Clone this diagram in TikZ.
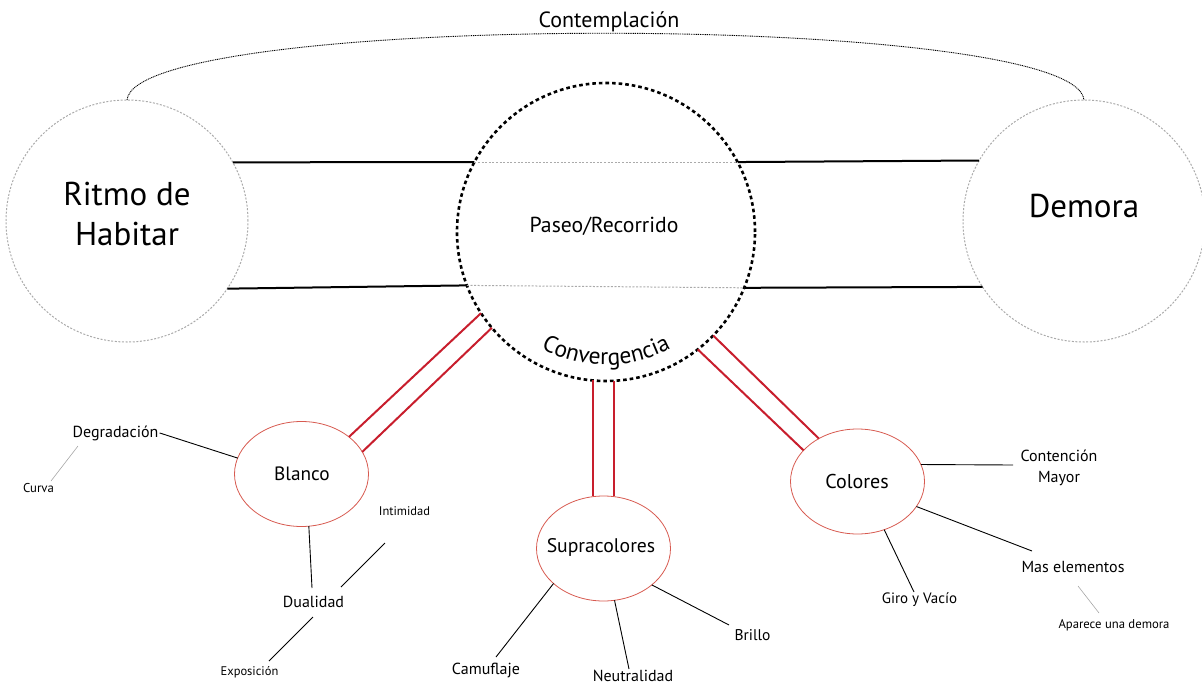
\documentclass[tikz,border=0pt]{standalone}
\usepackage{fontspec}
\setmainfont{PT Sans}
\usetikzlibrary{shapes.geometric,decorations.text,calc}

\definecolor{linkred}{RGB}{200,30,45}
\definecolor{ovalred}{RGB}{215,90,80}
\definecolor{ringgray}{RGB}{170,170,170}

\tikzset{
  fs/.style n args={2}{font=\fontsize{#1}{#2}\selectfont},
  outerring/.style={circle, draw=ringgray, dash pattern=on 2pt off 1.6pt,
    line width=1pt, minimum size=242pt, inner sep=0pt, outer sep=0pt},
  hubring/.style={circle, draw=black, dash pattern=on 3.6pt off 3pt,
    line width=2.6pt, minimum size=298pt, inner sep=0pt, outer sep=0pt},
  oval/.style={ellipse, draw=ovalred, line width=0.8pt, minimum width=134pt,
    minimum height=105pt, inner sep=0pt, outer sep=0pt},
  lbl/.style={anchor=base, inner sep=1pt},
  link/.style={draw=linkred, line width=2pt},
  spoke/.style={draw=black, line width=0.9pt},
  faint/.style={draw=gray!70, line width=0.6pt},
  beam/.style={draw=black, line width=2pt},
  midline/.style={draw=ringgray, dash pattern=on 2pt off 1.6pt, line width=1pt},
  arcline/.style={draw=black, dash pattern=on 1pt off 0.8pt, line width=0.9pt}
}

\begin{document}
\begin{tikzpicture}[x=1pt,y=1pt]
\useasboundingbox (0,0) rectangle (1202,-685);

% three main rings
\node[outerring] (ritmo) at (127,-221) {};
\node[outerring] (demora) at (1084,-221) {};
\node[hubring] (paseo) at (606,-232) {};

\node[fs={33}{40}, align=center] (ritmotxt) at (127,-214) {Ritmo de\\Habitar};
\node[lbl, fs={33}{40}] (demoratxt) at (1084,-217) {Demora};
\node[lbl, fs={21.7}{26}] (paseotxt) at (604,-232) {Paseo/Recorrido};

% contemplation arc over the top
\draw[arcline] (ritmo.north) .. controls (135,-11) and (1076,-11) .. (demora.north);
\node[lbl, fs={22}{26}] (contemp) at (609,-28) {Contemplación};

% beams joining the rings
\draw[beam] (ritmo.29.2) -- (paseo.152);
\draw[beam] (ritmo.326.9) -- (paseo.201.7);
\draw[beam] (paseo.28) -- (demora.150.8);
\draw[beam] (paseo.338.3) -- (demora.213.1);
\draw[midline] (paseo.152) -- (paseo.28);
\draw[midline] (paseo.201.7) -- (paseo.338.3);

% curved label along the lower rim
\path[decorate, decoration={text along path, text align=center,
   text={|\fontsize{23.5}{27}\selectfont|Convergencia}}]
   ($(paseo.center)+(215:133pt)$) arc[start angle=215, end angle=325, radius=133pt];

% the three branches
\node[oval] (blanco) at (301.5,-474) {};
\node[oval] (supra) at (603.5,-548.5) {};
\node[oval] (colores) at (857.5,-481.5) {};
\node[lbl, fs={19.3}{23}] at (302,-480) {Blanco};
\node[lbl, fs={19.7}{23}] at (601,-552) {Supracolores};
\node[lbl, fs={20}{23}] at (857,-488) {Colores};

\draw[link] (paseo.213.2) -- (blanco.38.5);
\draw[link] (paseo.220.9) -- (blanco.20.8);
\draw[link] (paseo.265) -- (paseo.265 |- supra.north);
\draw[link] (paseo.273.5) -- (paseo.273.5 |- supra.north);
\draw[link] (paseo.308.9) -- (colores.150);
\draw[link] (paseo.316.6) -- (colores.132.9);

% Blanco leaves
\node[lbl, fs={16}{19}] (degr) at (115.5,-437) {Degradación};
\node[lbl, fs={12.8}{15}] (curva) at (38.5,-492) {Curva};
\node[lbl, fs={16}{19}] (dual) at (313.5,-607) {Dualidad};
\node[lbl, fs={12.5}{15}] (intim) at (404.5,-515) {Intimidad};
\node[lbl, fs={12.5}{15}] (expo) at (249.5,-675) {Exposición};
\coordinate (curvaA) at (78,-446);
\coordinate (curvaB) at (51,-481);
\coordinate (dualTop) at (312,-588);
\coordinate (intimA) at (385,-543);
\coordinate (intimB) at (341,-587);
\coordinate (expoA) at (313,-617);
\coordinate (expoB) at (269,-661);
\draw[spoke] (degr.east) -- (blanco.166);
\draw[faint] (curvaA) -- (curvaB);
\draw[spoke] (blanco.278.2) -- (dualTop);
\draw[spoke] (intimA) -- (intimB);
\draw[spoke] (expoA) -- (expoB);

% Supracolores leaves
\node[lbl, fs={16}{19}] (camu) at (486,-674) {Camuflaje};
\node[lbl, fs={16}{19}, inner sep=0pt] (neut) at (633,-681) {Neutralidad};
\node[lbl, fs={15.5}{18}] (brillo) at (752.5,-640) {Brillo};
\coordinate (camuTop) at (496,-657);
\coordinate (neutTop) at (629,-669);
\coordinate (brilloTop) at (729,-625);
\draw[spoke] (supra.215.6) -- (camuTop);
\draw[spoke] (supra.282.4) -- (neutTop);
\draw[spoke] (supra.323.8) -- (brilloTop);

% Colores leaves
\node[lbl, fs={16}{21}, align=center] (conten) at (1059,-482) {Contención\\Mayor};
\node[lbl, fs={16}{19}] (masel) at (1073,-572) {Mas elementos};
\node[lbl, fs={15}{18}] (giro) at (919.5,-603) {Giro y Vacío};
\node[lbl, fs={12.7}{15}] (apar) at (1114,-628) {Aparece una demora};
\coordinate (contenEnd) at (1013,-465);
\coordinate (maselEnd) at (1032,-551);
\coordinate (giroEnd) at (914,-592);
\coordinate (aparA) at (1078,-586);
\coordinate (aparB) at (1099,-613);
\draw[spoke] (colores.15.4) -- (contenEnd);
\draw[spoke] (colores.337.6) -- (maselEnd);
\draw[spoke] (colores.299.7) -- (giroEnd);
\draw[faint] (aparA) -- (aparB);
\end{tikzpicture}
\end{document}
